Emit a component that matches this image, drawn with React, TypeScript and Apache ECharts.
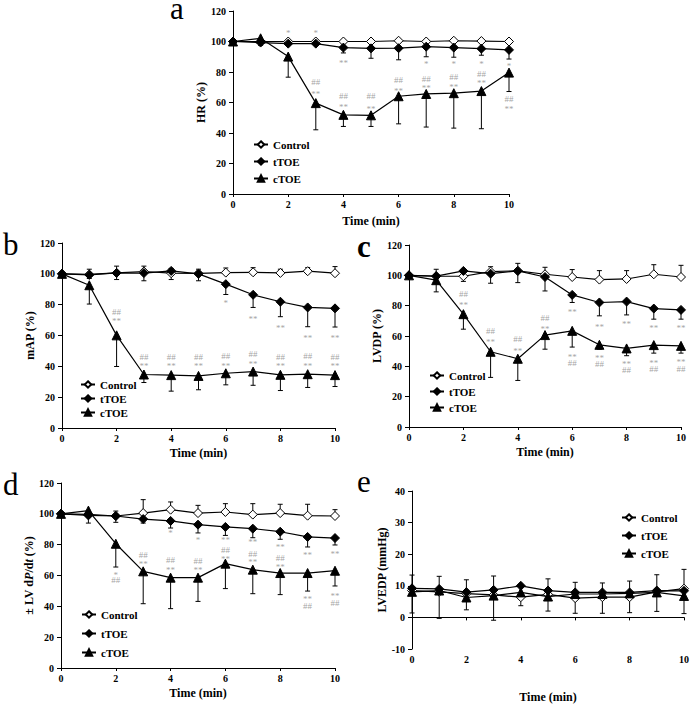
import React, { useEffect, useRef } from "react";
import * as echarts from "echarts";

const FONT = "'Liberation Serif', 'Times New Roman', serif";

const times = [0, 1, 2, 3, 4, 5, 6, 7, 8, 9, 10];
const groupNames = ["Control", "tTOE", "cTOE"];

// Panel a: HR (%)
const ctrlA = [100, 100, 100, 100, 100, 100, 100.5, 100, 100.5, 100.3, 100];
const tA = [100, 99.3, 98.6, 98.6, 96, 95.5, 95.6, 96.6, 96, 95.3, 94.5];
const cA = [100, 102.1, 90.1, 59.6, 51.9, 51.6, 64.1, 65.6, 66.1, 67.5, 79.6];
const ctrlErrA = [null, null, null, null, null, null, null, null, null, null, null];
const tErrA = [null, 97.5, null, null, 92.5, 89, 88, 90, 89.7, 91, 88.5];
const cErrA = [null, null, 76.6, 42.1, 44.3, 44.3, 46, 43.9, 43.2, 42.8, 67.2];
const annotA: [number, number, string][] = [
  [2, 107, "*"], [3, 107, "*"],
  [4, 87.3, "**"], [7, 86.8, "*"], [8, 86.8, "*"], [9, 86.8, "*"], [10, 85.3, "*"],
  [3, 73.3, "##"], [3, 67.5, "**"],
  [4, 64, "##"], [4, 59, "**"],
  [5, 64.5, "##"], [5, 57.5, "**"],
  [6, 74.5, "##"], [6, 69.5, "**"],
  [7, 75.5, "##"], [7, 71.3, "**"],
  [8, 76.5, "##"], [8, 71.5, "**"],
  [9, 79, "##"], [9, 74.5, "**"],
  [10, 62.5, "##"], [10, 57.5, "**"],
];

// Panel b: mAP (%)
const ctrlB = [100, 99.6, 100.6, 101.5, 100.4, 100.3, 100.8, 101, 100.6, 101.7, 100.4];
const tB = [100, 99.3, 100.6, 100.5, 101.9, 100, 93.3, 86.4, 81.9, 78.2, 77.6];
const cB = [100, 92.6, 60.1, 34.7, 34.3, 33.8, 35.5, 36.6, 34.5, 34.9, 34.3];
const ctrlErrB = [null, 103, 105, 105, 103.5, 103, 103.8, 104, 103, 104, 104.7];
const tErrB = [null, 97, 96.3, 95.5, 96.3, 95.5, 86.6, 78.2, 72.2, 65.7, 65.5];
const cErrB = [null, 80.4, 39.9, 29.5, 23.9, 24.8, 28, 27.7, 24.3, 26.3, 26.9];
const annotB: [number, number, string][] = [
  [2, 75.4, "##"], [2, 71.1, "**"],
  [3, 46.3, "##"], [3, 42, "**"],
  [4, 46.3, "##"], [4, 42, "**"],
  [5, 46.3, "##"], [5, 42, "**"],
  [6, 46.8, "##"], [6, 42, "**"],
  [7, 48, "##"], [7, 43, "**"],
  [8, 46.3, "##"], [8, 42, "**"],
  [9, 46.8, "##"], [9, 42, "**"],
  [10, 46.3, "##"], [10, 42, "**"],
  [6, 82.9, "*"], [7, 72.6, "**"], [8, 66.8, "**"], [9, 60.1, "**"], [10, 60.1, "**"],
];

// Panel c: LVDP (%)
const ctrlC = [100, 99.4, 99.4, 102.5, 103, 100.7, 98.9, 97.2, 97.6, 100.7, 98.9];
const tC = [100, 99.5, 102.9, 101.1, 102.9, 98.9, 87.1, 82.1, 82.7, 78.1, 77.2];
const cC = [100, 96.8, 74.4, 49.6, 45, 60.6, 63.4, 54.2, 51.8, 54, 53.5];
const ctrlErrC = [null, 104, 102, 105.7, 107.9, 105.3, 103.8, 103.1, 103.1, 107, 106.6];
const tErrC = [null, 95, 96, 94.8, 95.2, 89.7, 82.1, 73.3, 73.9, 71.1, 71.1];
const cErrC = [null, 89.1, 64.5, 32.7, 30.7, 51.3, 52.7, 51.3, 47, 48.7, 48.7];
const annotC: [number, number, string][] = [
  [2, 87.8, "##"], [2, 82.1, "**"],
  [3, 63, "##"], [3, 57.5, "**"],
  [4, 58.1, "##"], [4, 52, "**"],
  [5, 71.7, "##"], [5, 66.3, "**"],
  [6, 77.2, "**"], [6, 48, "**"], [6, 42.1, "##"],
  [7, 67.8, "**"], [7, 47, "**"], [7, 41.7, "##"],
  [8, 69.5, "**"], [8, 43.2, "**"], [8, 37.7, "##"],
  [9, 66.7, "**"], [9, 43.7, "**"], [9, 38.2, "##"],
  [10, 66.7, "**"], [10, 44.8, "**"], [10, 38.2, "##"],
];

// Panel d: ± LV dP/dt (%)
const ctrlD = [100, 99.7, 98.6, 100.5, 102.7, 100.5, 101.2, 99.5, 100.5, 98.8, 98.6];
const tD = [100, 99, 98.6, 96.6, 95.4, 93, 91.5, 90.4, 88.4, 85, 84.3];
const cD = [100, 102.1, 80.6, 62.7, 58.6, 58.6, 67.7, 63.8, 61.6, 61.6, 63.1];
const ctrlErrD = [null, null, 101.8, 109.2, 107.7, 105.5, 106.6, 106.6, 106.2, 106.2, 102.7];
const tErrD = [null, 94, 94.5, 94, 90.8, 87.6, 86, 84.5, 83.5, 78.5, 79.8];
const cErrD = [null, null, 65.5, 41.7, 38.5, 43.2, 51.5, 48.2, 47.6, 49.9, 53.2];
const annotD: [number, number, string][] = [
  [2, 61.8, "*"], [2, 57.3, "##"],
  [3, 73.1, "##"], [3, 69.4, "**"],
  [4, 89.3, "*"], [4, 69.8, "##"], [4, 65.5, "**"],
  [5, 84.5, "*"], [5, 69.4, "##"], [5, 65.1, "**"],
  [6, 84.5, "**"], [6, 76.8, "##"], [6, 72.4, "**"],
  [7, 83.2, "**"], [7, 74.2, "##"], [7, 70.3, "**"],
  [8, 80.2, "**"], [8, 71.4, "##"], [8, 67, "**"],
  [9, 74.8, "**"], [9, 46.1, "**"], [9, 40, "##"],
  [10, 75.7, "**"], [10, 48.2, "**"], [10, 42.4, "##"],
];

// Panel e: LVEDP (mmHg)
const ctrlE = [8.5, 8.1, 7.5, 7.1, 6.4, 7.3, 6.1, 6.4, 6.4, 8.1, 9.1];
const tE = [9.2, 9, 8, 8.7, 10, 8.5, 7.9, 7.9, 7.9, 8.5, 8.4];
const cE = [8.1, 8.5, 6.3, 6.9, 7.9, 6.6, 7.4, 7.4, 7.6, 7.9, 6.8];
const ctrlErrE = [13.4, 13, 11.9, 13.1, null, 12.2, 11.1, 10.9, 11.5, 13.5, 15.2];
const tErrE = [null, null, null, null, null, null, null, null, null, null, null];
const cErrE = [1.4, -0.3, 2.4, -0.9, 3.7, 2, 1.3, 1.3, 1.5, 1.9, 1.2];
const annotE: [number, number, string][] = [];

const yTitles = ["HR (%)", "mAP (%)", "LVDP (%)", "± LV d{i|P}/d{i|t} (%)", "LVEDP (mmHg)"];
const panelLetters = ["a", "b", "c", "d", "e"];

const grids = [
  { left: 233, top: 11, width: 276, height: 183 },
  { left: 62, top: 243, width: 273, height: 185 },
  { left: 409, top: 245, width: 272, height: 182 },
  { left: 61, top: 483, width: 274, height: 185 },
  { left: 412, top: 491, width: 272, height: 195 },
];
const yNameGaps = [22, 20, 19, 19, 20];
const xNameGaps = [21, 19, 19, 19, 42];
const legendPos = [
  { left: 248, top: 134, itemGap: 6 },
  { left: 75, top: 374, itemGap: 3 },
  { left: 424, top: 365, itemGap: 5 },
  { left: 76, top: 604, itemGap: 8 },
  { left: 616, top: 507, itemGap: 7 },
];
const letterPos = [
  { x: 170, y: 8.5, bold: false },
  { x: 3, y: 244, bold: false },
  { x: 357, y: 246, bold: true },
  { x: 3, y: 484, bold: false },
  { x: 357, y: 481, bold: false },
];

const panels = [
  { vals: [ctrlA, tA, cA], errs: [ctrlErrA, tErrA, cErrA], annot: annotA, yMin: 0, yMax: 120, yInt: 20 },
  { vals: [ctrlB, tB, cB], errs: [ctrlErrB, tErrB, cErrB], annot: annotB, yMin: 0, yMax: 120, yInt: 20 },
  { vals: [ctrlC, tC, cC], errs: [ctrlErrC, tErrC, cErrC], annot: annotC, yMin: 0, yMax: 120, yInt: 20 },
  { vals: [ctrlD, tD, cD], errs: [ctrlErrD, tErrD, cErrD], annot: annotD, yMin: 0, yMax: 120, yInt: 20 },
  { vals: [ctrlE, tE, cE], errs: [ctrlErrE, tErrE, cErrE], annot: annotE, yMin: -10, yMax: 40, yInt: 10 },
];

const axisTextStyle = { fontFamily: FONT, fontWeight: "bold" as const, fontSize: 10, color: "#000" };
const nameTextStyle = { fontFamily: FONT, fontWeight: "bold" as const, fontSize: 12, color: "#000" };

function errRender(params: any, api: any) {
  const x = api.value(0);
  const p1 = api.coord([x, api.value(1)]);
  const p2 = api.coord([x, api.value(2)]);
  const st = { stroke: "#000", lineWidth: 1 };
  return {
    type: "group",
    children: [
      { type: "line", shape: { x1: p1[0], y1: p1[1], x2: p2[0], y2: p2[1] }, style: st },
      { type: "line", shape: { x1: p2[0] - 2.5, y1: p2[1], x2: p2[0] + 2.5, y2: p2[1] }, style: st },
    ],
  };
}

function buildOption() {
  const xAxis: any[] = [];
  const yAxis: any[] = [];
  const series: any[] = [];
  const legend: any[] = [];
  const graphic: any[] = [];

  panels.forEach((p, gi) => {
    xAxis.push({
      type: "value",
      gridIndex: gi,
      min: 0,
      max: 10,
      interval: 2,
      axisLine: { show: true, onZero: true, lineStyle: { color: "#000", width: 1 } },
      axisTick: { show: true, length: 3, lineStyle: { color: "#000" } },
      axisLabel: { ...axisTextStyle, margin: 5 },
      splitLine: { show: false },
      name: "Time (min)",
      nameLocation: "middle",
      nameGap: xNameGaps[gi],
      nameTextStyle,
    });
    yAxis.push({
      type: "value",
      gridIndex: gi,
      min: p.yMin,
      max: p.yMax,
      interval: p.yInt,
      axisLine: { show: true, lineStyle: { color: "#000", width: 1 } },
      axisTick: { show: true, length: 4, lineStyle: { color: "#000" } },
      axisLabel: { ...axisTextStyle, margin: 7 },
      splitLine: { show: false },
      name: yTitles[gi],
      nameLocation: "middle",
      nameGap: yNameGaps[gi],
      nameTextStyle: {
        ...nameTextStyle,
        rich: { i: { ...nameTextStyle, fontStyle: "italic" } },
      },
    });

    // error bars
    p.errs.forEach((errArr, si) => {
      const data = times
        .map((t, i) => [t, p.vals[si][i], errArr[i]])
        .filter((d) => d[2] !== null && d[2] !== undefined);
      series.push({
        type: "custom",
        xAxisIndex: gi,
        yAxisIndex: gi,
        silent: true,
        renderItem: errRender,
        encode: { x: 0, y: [1, 2] },
        data,
        z: 2,
      });
    });

    // lines
    const styles = [
      { symbol: "diamond", symbolSize: 9, itemStyle: { color: "#fff", borderColor: "#000", borderWidth: 1 } },
      { symbol: "diamond", symbolSize: 9, itemStyle: { color: "#000", borderColor: "#000", borderWidth: 1 } },
      { symbol: "triangle", symbolSize: 9, itemStyle: { color: "#000", borderColor: "#000", borderWidth: 1 } },
    ];
    p.vals.forEach((vals, si) => {
      series.push({
        type: "line",
        name: groupNames[si],
        xAxisIndex: gi,
        yAxisIndex: gi,
        data: times.map((t, i) => [t, vals[i]]),
        symbol: styles[si].symbol,
        symbolSize: styles[si].symbolSize,
        showAllSymbol: true,
        itemStyle: styles[si].itemStyle,
        lineStyle: { color: "#000", width: 1.2 },
        z: 3 + si,
      });
    });

    // annotations
    if (p.annot.length) {
      series.push({
        type: "scatter",
        xAxisIndex: gi,
        yAxisIndex: gi,
        silent: true,
        symbolSize: 1,
        itemStyle: { color: "rgba(0,0,0,0)" },
        data: p.annot.map(([x, y, t]) => ({
          value: [x, y],
          name: t,
          label: t.indexOf("*") >= 0 ? { offset: [0, 2.5] } : { offset: [0, 0] },
        })),
        label: {
          show: true,
          position: "inside",
          formatter: (q: any) => q.name,
          color: "#8c8c8c",
          fontSize: 9,
          fontFamily: FONT,
        },
        z: 8,
      });
    }

    legend.push({
      data: groupNames,
      orient: "vertical",
      left: legendPos[gi].left,
      top: legendPos[gi].top,
      itemGap: legendPos[gi].itemGap,
      itemWidth: 14,
      itemHeight: 8,
      selectedMode: false,
      textStyle: { fontFamily: FONT, fontWeight: "bold", fontSize: 11, color: "#000" },
    });

    graphic.push({
      type: "text",
      x: letterPos[gi].x,
      y: letterPos[gi].y,
      style: {
        text: panelLetters[gi],
        fontFamily: FONT,
        fontSize: 31,
        lineHeight: 17,
        fontWeight: letterPos[gi].bold ? "bold" : "normal",
        fill: "#000",
        verticalAlign: "middle",
      },
    });
  });

  return {
    animation: false,
    backgroundColor: "#fff",
    grid: grids.map((g) => ({ ...g, containLabel: false })),
    xAxis,
    yAxis,
    legend,
    series,
    graphic,
  };
}

export default function App() {
  const ref = useRef<HTMLDivElement>(null);
  useEffect(() => {
    if (!ref.current) return;
    const chart = echarts.init(ref.current, undefined, { renderer: "svg" });
    chart.setOption(buildOption() as any);
    return () => chart.dispose();
  }, []);
  return (
    <div
      ref={ref}
      style={{ position: "absolute", left: 0, top: 0, width: 692, height: 704, background: "#fff" }}
    />
  );
}
